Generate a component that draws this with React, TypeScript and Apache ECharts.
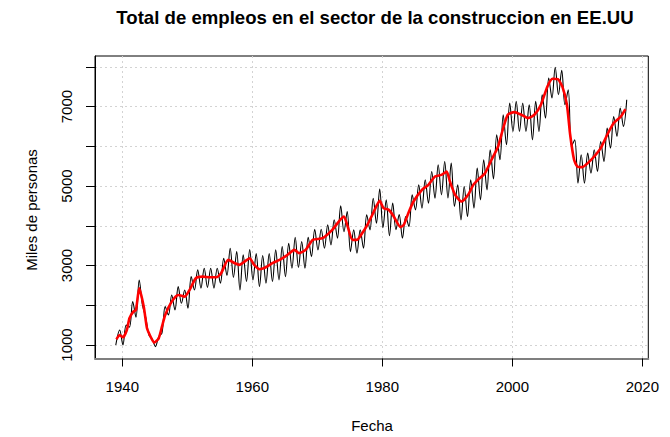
import React, { useEffect, useRef } from "react";
import * as echarts from "echarts";

const TITLE = "Total de empleos en el sector de la construccion en EE.UU";
const X_NAME = "Fecha";
const Y_NAME = "Miles de personas";
const FONT = '"Liberation Sans", Arial, sans-serif';

const X_TICKS = [1940, 1960, 1980, 2000, 2020];
const Y_TICKS = [1000, 2000, 3000, 4000, 5000, 6000, 7000, 8000];
const Y_LABELS = [1000, 3000, 5000, 7000];

// Monthly series, read as winter troughs / summer peaks
const blackYears = [
  1939.0, 1939.6, 1940.1, 1940.6, 1941.1, 1941.6, 1942.1, 1942.6, 1943.1, 1943.6,
  1944.1, 1944.6, 1945.1, 1945.6, 1946.1, 1946.6, 1947.1, 1947.6, 1948.1, 1948.6,
  1949.1, 1949.6, 1950.1, 1950.6, 1951.1, 1951.6, 1952.1, 1952.6, 1953.1, 1953.6,
  1954.1, 1954.6, 1955.1, 1955.6, 1956.1, 1956.6, 1957.1, 1957.6, 1958.1, 1958.6,
  1959.1, 1959.6, 1960.1, 1960.6, 1961.1, 1961.6, 1962.1, 1962.6, 1963.1, 1963.6,
  1964.1, 1964.6, 1965.1, 1965.6, 1966.1, 1966.6, 1967.1, 1967.6, 1968.1, 1968.6,
  1969.1, 1969.6, 1970.1, 1970.6, 1971.1, 1971.6, 1972.1, 1972.6, 1973.1, 1973.6,
  1974.1, 1974.6, 1975.1, 1975.6, 1976.1, 1976.6, 1977.1, 1977.6, 1978.1, 1978.6,
  1979.1, 1979.6, 1980.1, 1980.6, 1981.1, 1981.6, 1982.1, 1982.6, 1983.1, 1983.6,
  1984.1, 1984.6, 1985.1, 1985.6, 1986.1, 1986.6, 1987.1, 1987.6, 1988.1, 1988.6,
  1989.1, 1989.6, 1990.1, 1990.6, 1991.1, 1991.6, 1992.1, 1992.6, 1993.1, 1993.6,
  1994.1, 1994.6, 1995.1, 1995.6, 1996.1, 1996.6, 1997.1, 1997.6, 1998.1, 1998.6,
  1999.1, 1999.6, 2000.1, 2000.6, 2001.1, 2001.6, 2002.1, 2002.6, 2003.1, 2003.6,
  2004.1, 2004.6, 2005.1, 2005.6, 2006.1, 2006.6, 2007.1, 2007.6, 2008.1, 2008.6,
  2009.1, 2009.6, 2010.1, 2010.6, 2011.1, 2011.6, 2012.1, 2012.6, 2013.1, 2013.6,
  2014.1, 2014.6, 2015.1, 2015.6, 2016.1, 2016.6, 2017.1, 2017.6,
];
const blackValues = [
  1000, 1378, 1000, 1500, 1450, 2091, 1698, 2637, 2000, 1700,
  1250, 1150, 960, 1210, 1300, 1965, 1756, 2259, 1881, 2469,
  2050, 2385, 1924, 2720, 2385, 2889, 2430, 2930, 2450, 2930,
  2430, 2930, 2554, 3183, 2750, 3435, 2700, 3350, 2385, 3270,
  2600, 3400, 2637, 3300, 2469, 3250, 2554, 3300, 2596, 3393,
  2637, 3476, 2720, 3560, 2932, 3712, 2950, 3602, 2932, 3712,
  3224, 3913, 3393, 3913, 3435, 4022, 3519, 4149, 3687, 4501,
  3850, 4358, 3350, 3897, 3310, 3897, 3435, 4275, 3897, 4694,
  4064, 4921, 3950, 4652, 3750, 4570, 3900, 4280, 3687, 4232,
  3980, 4778, 4400, 5030, 4443, 5156, 4569, 5365, 4694, 5534,
  4778, 5617, 4700, 5576, 4485, 5030, 4149, 4987, 4232, 5156,
  4443, 5450, 4652, 5660, 4904, 5912, 5180, 6290, 5660, 6793,
  6038, 7087, 6373, 7130, 6373, 7087, 6373, 7045, 6164, 7130,
  6373, 7297, 6709, 7717, 7214, 7990, 7297, 7910, 7045, 7423,
  6000, 6164, 5072, 5786, 5072, 5828, 5324, 5912, 5365, 6122,
  5617, 6458, 5953, 6750, 6248, 6960, 6500, 7170,
];

// Trend (red line)
const redYears = [
  1939.1, 1939.6, 1940.1, 1940.7, 1941.1, 1941.7, 1942.1, 1942.6, 1943.3, 1943.8,
  1944.3, 1944.9, 1945.6, 1946.1, 1946.6, 1947.6, 1948.6, 1949.6, 1950.4, 1951.3,
  1952.4, 1953.5, 1954.5, 1955.2, 1956.3, 1957.3, 1958.0, 1958.8, 1959.6, 1960.3,
  1961.1, 1962.1, 1963.1, 1964.2, 1965.2, 1966.5, 1967.2, 1968.2, 1969.3, 1970.8,
  1972.3, 1973.3, 1974.1, 1974.6, 1975.4, 1976.1, 1976.9, 1977.7, 1978.7, 1979.6,
  1980.2, 1981.0, 1981.7, 1982.8, 1983.3, 1984.0, 1984.8, 1986.1, 1987.1, 1988.1,
  1989.1, 1989.9, 1990.4, 1991.2, 1992.2, 1993.2, 1994.0, 1994.7, 1995.8, 1996.8,
  1997.8, 1998.5, 1999.3, 2000.3, 2001.4, 2002.4, 2003.4, 2004.4, 2005.4, 2006.2,
  2007.0, 2007.7, 2008.4, 2008.9, 2009.5, 2010.0, 2010.8, 2011.6, 2012.6, 2013.6,
  2014.6, 2015.6, 2016.7, 2017.4,
];
const redValues = [
  1143, 1252, 1194, 1378, 1672, 1840, 1880, 2428, 1965, 1420,
  1227, 1058, 1168, 1461, 1756, 2091, 2259, 2217, 2400, 2680,
  2720, 2705, 2705, 2806, 3141, 3058, 3015, 3098, 3183, 3015,
  2907, 2957, 3058, 3141, 3242, 3393, 3310, 3393, 3645, 3687,
  3897, 4106, 4232, 4022, 3645, 3645, 3812, 4022, 4358, 4627,
  4443, 4400, 4250, 3965, 4022, 4317, 4610, 4904, 5030, 5239,
  5282, 5365, 5113, 4778, 4610, 4778, 5030, 5156, 5324, 5660,
  5990, 6400, 6793, 6860, 6793, 6709, 6793, 7045, 7506, 7700,
  7690, 7500, 7045, 6290, 5660, 5492, 5476, 5576, 5743, 5953,
  6290, 6584, 6750, 6936,
];

export default function App() {
  const ref = useRef<HTMLDivElement>(null);
  useEffect(() => {
    document.body.style.margin = "0";
    if (!ref.current) return;
    const chart = echarts.init(ref.current, null, { renderer: "svg" });
    const black = blackYears.map((y, i) => [y, blackValues[i]]);
    const red = redYears.map((y, i) => [y, redValues[i]]);
    const plain = (v: number) => String(v);
    chart.setOption({
      animation: false,
      backgroundColor: "#ffffff",
      textStyle: { fontFamily: FONT },
      grid: {
        left: 95,
        right: 21.7,
        top: 56,
        bottom: 78.5,
        show: true,
        borderColor: "#000",
        borderWidth: 1,
        backgroundColor: "transparent",
      },
      xAxis: {
        type: "value",
        min: 1935.8,
        max: 2020.92,
        axisLine: { show: true, onZero: false, lineStyle: { color: "#7f7f7f", width: 2 } },
        axisTick: { show: true, length: 8, customValues: X_TICKS, lineStyle: { color: "#000", width: 1 } },
        axisLabel: {
          customValues: X_TICKS,
          formatter: plain,
          margin: 20,
          fontSize: 15,
          color: "#000",
          fontFamily: FONT,
        },
        splitLine: { show: true, lineStyle: { color: "#d3d3d3", type: [2, 3], width: 1 } },
      },
      yAxis: {
        type: "value",
        min: 660,
        max: 8272,
        axisLine: { show: true, onZero: false, lineStyle: { color: "#000", width: 1 } },
        axisTick: { show: true, length: 9, customValues: Y_TICKS, lineStyle: { color: "#000", width: 1 } },
        axisLabel: {
          customValues: Y_LABELS,
          formatter: plain,
          rotate: 90,
          margin: 21,
          fontSize: 15,
          color: "#000",
          fontFamily: FONT,
        },
        splitLine: { show: true, lineStyle: { color: "#d3d3d3", type: [2, 3], width: 1 } },
      },
      graphic: [
        {
          type: "text",
          x: 375,
          y: 17,
          style: {
            text: TITLE,
            fill: "#000",
            font: `bold 18.6px ${FONT}`,
            textAlign: "center",
            textVerticalAlign: "middle",
            align: "center",
            verticalAlign: "middle",
          },
        },
        {
          type: "text",
          x: 372,
          y: 425,
          style: {
            text: X_NAME,
            fill: "#000",
            font: `15px ${FONT}`,
            textAlign: "center",
            textVerticalAlign: "middle",
            align: "center",
            verticalAlign: "middle",
          },
        },
        {
          type: "text",
          x: 31,
          y: 210,
          rotation: Math.PI / 2,
          style: {
            text: Y_NAME,
            fill: "#000",
            font: `15px ${FONT}`,
            textAlign: "center",
            textVerticalAlign: "middle",
            align: "center",
            verticalAlign: "middle",
          },
        },
      ],
      series: [
        {
          type: "line",
          data: black,
          showSymbol: false,
          symbol: "none",
          smooth: 0.35,
          lineStyle: { color: "#000", width: 1.1 },
          silent: true,
          z: 2,
        },
        {
          type: "line",
          data: red,
          showSymbol: false,
          symbol: "none",
          smooth: 0.2,
          lineStyle: { color: "#ff0000", width: 2.6 },
          silent: true,
          z: 3,
        },
      ],
    });
    return () => chart.dispose();
  }, []);
  return (
    <div
      ref={ref}
      style={{ position: "fixed", left: 0, top: 0, width: 670, height: 437, background: "#fff" }}
    />
  );
}
